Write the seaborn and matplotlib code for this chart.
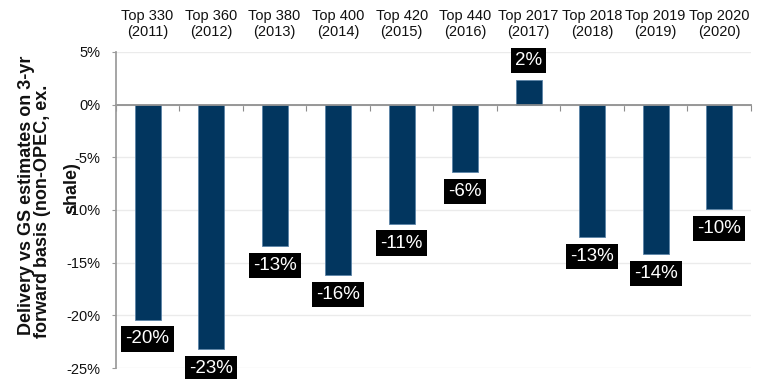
import matplotlib
matplotlib.use("Agg")
import matplotlib.pyplot as plt
from matplotlib.ticker import FuncFormatter, FixedLocator
import seaborn as sns
import pandas as pd

# Project cohorts and their delivery vs estimates (%)
cohorts = ["Top 330", "Top 360", "Top 380", "Top 400", "Top 420",
           "Top 440", "Top 2017", "Top 2018", "Top 2019", "Top 2020"]
years = ["2011", "2012", "2013", "2014", "2015",
         "2016", "2017", "2018", "2019", "2020"]
delivery_pct = [-20.4, -23.2, -13.4, -16.2, -11.3, -6.4, 2.35, -12.6, -14.2, -9.9]
y_ticks = [5, 0, -5, -10, -15, -20, -25]

labels = [f"{c}\n({y})" for c, y in zip(cohorts, years)]
df = pd.DataFrame({"cohort": labels, "delivery": delivery_pct})

sns.set_theme(style="white")
plt.rcParams["font.family"] = ["Liberation Sans", "DejaVu Sans"]

fig = plt.figure(figsize=(7.57, 3.79), dpi=100)
ax = fig.add_axes([0.153, 0.029, 0.839, 0.834])

sns.barplot(data=df, x="cohort", y="delivery", color="#02365F",
            saturation=1, width=0.41, ax=ax, edgecolor="#5B84A8", linewidth=0.6)

ax.set_ylim(-25, 5)
ax.set_xlim(-0.5, len(labels) - 0.5)
ax.yaxis.set_major_locator(FixedLocator(y_ticks))
ax.yaxis.set_major_formatter(FuncFormatter(lambda v, _: f"{int(round(v))}%"))
ax.grid(axis="y", color="#EBEBEB", linewidth=1.0)
ax.set_axisbelow(True)

# Spines: left axis and a zero baseline
for s in ["top", "right"]:
    ax.spines[s].set_visible(False)
ax.spines["left"].set_color("#9A9A9A")
ax.spines["bottom"].set_position(("data", 0))
ax.spines["bottom"].set_color("#8C8C8C")
ax.spines["bottom"].set_zorder(1)

# Category labels on top, separator ticks on the zero line
ax.xaxis.set_minor_locator(FixedLocator([i + 0.5 for i in range(-1, len(labels))]))
ax.tick_params(axis="x", which="major", top=True, bottom=False, labeltop=True,
               labelbottom=False, length=0, pad=9, labelsize=10.5, labelcolor="#111111")
ax.tick_params(axis="x", which="minor", bottom=True, top=False, direction="out",
               length=4, width=0.8, color="#8C8C8C")
ax.tick_params(axis="y", left=True, length=3, width=0.8, color="#9A9A9A",
               pad=8, labelsize=10.5, labelcolor="#111111")
ax.set_xlabel("")
ax.set_ylabel("")

# Value labels in black boxes beyond the bar ends
for patch, v in zip(ax.patches, delivery_pct):
    xc = patch.get_x() + patch.get_width() / 2
    off = 14 if v >= 0 else -14
    ax.annotate(f"{round(v):.0f}%", xy=(xc, v), xytext=(0, off),
                textcoords="offset points", ha="center", va="center",
                fontsize=13.5, color="white", zorder=5, annotation_clip=False,
                bbox=dict(boxstyle="square,pad=0.22", fc="black", ec="none"))

# Axis title, wrapped over three lines
title_lines = [("Delivery vs GS estimates on 3-yr", 27, 195),
               ("forward basis (non-OPEC, ex.", 43, 211),
               ("shale)", 72, 188)]
for txt, xp, yp in title_lines:
    fig.text(xp / 757, 1 - yp / 379, txt, rotation=90, ha="center", va="center",
             fontsize=13, fontweight="bold", color="#111111")

fig.savefig("out.png", dpi=100)
